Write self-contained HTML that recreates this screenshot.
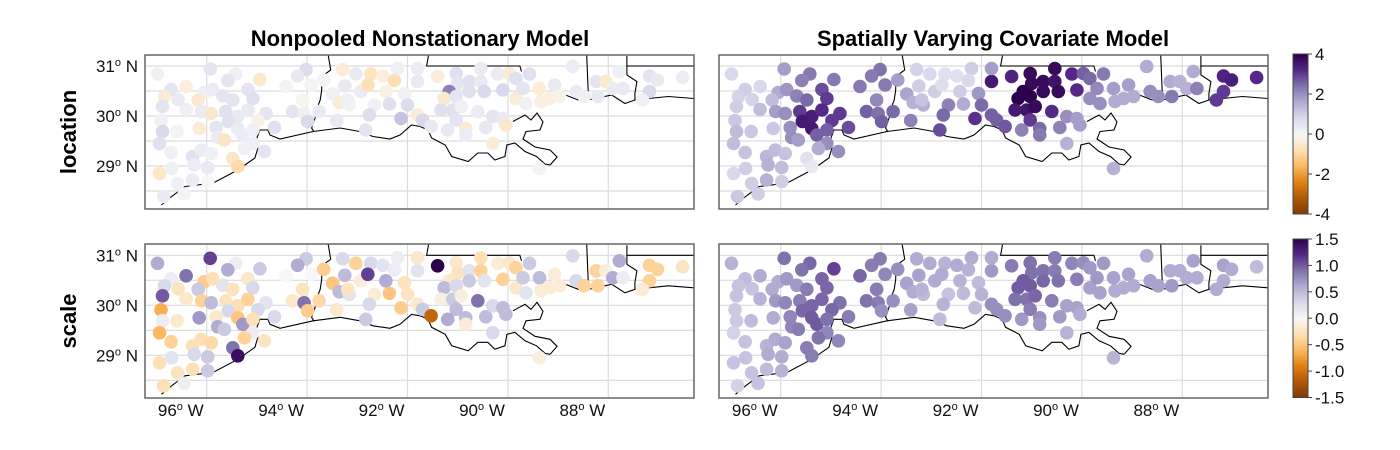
<!DOCTYPE html>
<html><head><meta charset="utf-8"><style>
body{margin:0;background:#fff;}
svg{display:block;font-family:"Liberation Sans",Arial,sans-serif;}
</style></head><body>
<svg id="fig" width="1400" height="450" viewBox="0 0 1400 450">
<defs>
<clipPath id="cTL"><rect x="145" y="55" width="549" height="154"/></clipPath>
<clipPath id="cTR"><rect x="719" y="55" width="549" height="154"/></clipPath>
<clipPath id="cBL"><rect x="145" y="244" width="549" height="154"/></clipPath>
<clipPath id="cBR"><rect x="719" y="244" width="549" height="154"/></clipPath>
<linearGradient id="g1" x1="0" y1="1" x2="0" y2="0"></linearGradient>
<linearGradient id="g2" x1="0" y1="1" x2="0" y2="0"></linearGradient>
</defs>
<text x="420" y="46" text-anchor="middle" font-size="22" font-weight="bold" fill="#000">Nonpooled Nonstationary Model</text>
<text x="993" y="46" text-anchor="middle" font-size="22" font-weight="bold" fill="#000">Spatially Varying Covariate Model</text>
<text transform="translate(76,132) rotate(-90)" text-anchor="middle" font-size="22" font-weight="bold">location</text>
<text transform="translate(76,321) rotate(-90)" text-anchor="middle" font-size="22" font-weight="bold">scale</text>
<g id="panels"></g>
<g id="cbars"></g>
</svg>
<script>
// station coordinates
const lons=[-96.98,-95.93,-95.42,-95.58,-94.94,-96.71,-96.41,-96.84,-96.57,-96.05,-95.88,-95.68,-95.48,-95.18,-95.08,-96.88,-96.41,-96.17,-96.10,-95.91,-95.62,-95.38,-95.18,-94.82,-96.91,-95.57,-95.38,-94.98,-94.65,-96.88,-96.59,-96.15,-95.81,-95.78,-95.65,-95.28,-95.08,-96.94,-95.08,-96.71,-96.28,-96.11,-95.91,-96.25,-95.98,-95.48,-95.38,-95.25,-94.85,-96.94,-96.70,-96.58,-96.28,-95.98,-96.45,-96.86,-94.02,-94.19,-94.42,-93.92,-93.67,-93.29,-93.03,-92.73,-92.49,-92.20,-93.25,-92.93,-92.79,-92.43,-92.26,-93.49,-93.36,-93.16,-93.19,-94.09,-94.29,-94.06,-93.76,-93.99,-93.41,-92.66,-92.76,-92.36,-92.06,-92.00,-92.13,-92.83,-91.80,-91.80,-91.40,-91.03,-91.00,-90.77,-90.54,-90.54,-90.20,-89.97,-89.84,-89.57,-91.17,-91.27,-91.03,-90.77,-90.47,-90.10,-91.33,-91.10,-90.93,-90.60,-91.03,-91.80,-91.70,-91.53,-91.20,-90.84,-90.84,-90.44,-90.30,-90.10,-90.04,-90.30,-89.84,-89.64,-89.70,-89.37,-89.34,-89.07,-89.17,-88.97,-88.71,-88.64,-88.48,-88.24,-88.21,-88.05,-87.91,-87.78,-87.71,-87.18,-87.02,-86.52,-87.18,-87.32,-89.37];
const lats=[30.84,30.94,30.84,30.71,30.73,30.53,30.59,30.39,30.33,30.47,30.53,30.40,30.32,30.53,30.35,30.19,30.13,30.32,30.09,30.05,30.09,29.99,30.12,30.05,29.91,29.89,29.75,29.91,29.77,29.69,29.69,29.75,29.77,29.57,29.52,29.62,29.72,29.45,29.45,29.27,29.19,29.32,29.25,29.02,28.97,29.15,28.99,29.35,29.29,28.85,28.95,28.65,28.72,28.69,28.44,28.39,30.93,30.80,30.59,30.62,30.72,30.93,30.84,30.84,30.80,30.95,30.60,30.49,30.62,30.49,30.71,30.44,30.27,30.22,30.32,30.32,30.09,30.05,30.09,29.89,29.91,30.22,30.02,30.24,30.45,30.22,29.95,29.72,30.69,30.95,30.79,30.85,30.65,30.69,30.95,30.69,30.84,30.85,30.75,30.84,30.49,30.35,30.39,30.49,30.49,30.52,30.12,30.12,30.19,30.09,29.92,30.02,29.92,29.79,29.72,29.75,29.62,29.77,29.99,29.95,29.82,29.45,30.35,30.25,30.55,30.55,30.29,30.62,30.35,30.39,30.99,30.49,30.39,30.69,30.39,30.69,30.55,30.89,30.55,30.80,30.72,30.77,30.49,30.32,28.95];
// location: nonpooled nonstationary model
const locNP=[0.2,0.5,0.2,0.5,-0.5,0.5,-0.3,-0.4,0.4,0.2,0.3,0.5,0.5,0.5,0.6,0.5,0.2,-0.5,0.3,-0.5,0.6,0.4,0.4,0.5,0.2,0.6,0.3,-0.2,0.6,0.8,0.1,-0.4,0.5,0.3,-0.6,0.3,0.2,0.6,0.2,0.2,0.6,0.3,0.2,0.3,0.4,-0.6,-0.9,0.2,0.5,-0.6,0.2,0.2,0.3,0.0,0.1,0.4,0.7,0.4,0.1,0.1,0.1,-0.4,0.4,-0.7,-0.3,0.2,0.4,0.3,-0.8,-0.2,-0.8,0.2,-0.4,0.1,0.2,-0.1,0.5,0.2,0.4,0.8,0.4,0.2,0.7,0.6,0.2,0.7,1.2,0.5,0.4,0.3,-0.4,0.6,0.5,0.6,0.3,0.4,0.3,-0.4,0.6,0.6,2.2,-0.5,0.5,0.6,0.8,0.8,0.6,0.6,0.2,0.3,0.5,-0.4,0.8,0.4,0.4,-0.4,0.3,0.4,0.5,0.3,-0.5,-0.4,-0.4,0.2,0.5,-0.4,-0.3,0.4,-0.3,-0.2,0.3,0.3,0.2,0.5,0.4,-0.5,0.3,0.2,0.4,0.5,0.4,0.3,0.8,0.2,0.1];
// location: spatially varying covariate model
const locSV=[0.8,1.8,2.3,2.2,2.3,1.0,0.8,0.9,0.9,1.6,1.9,2.2,2.5,2.8,3.0,1.0,1.3,1.3,1.8,2.0,3.0,3.4,3.2,3.0,1.1,3.5,3.5,3.0,2.8,1.3,1.1,1.1,2.0,2.0,1.8,2.6,2.6,1.3,2.0,1.2,1.4,1.3,1.2,1.5,1.3,0.6,0.4,1.6,2.0,0.8,1.0,1.0,1.5,1.0,1.0,1.1,2.4,2.3,2.3,2.3,1.8,0.9,0.8,0.6,0.6,1.0,1.0,1.0,0.7,1.0,0.8,1.7,1.5,1.5,1.2,2.1,2.6,2.4,2.5,2.6,2.2,2.2,2.5,1.6,1.9,2.5,3.1,2.8,3.5,1.8,3.3,3.8,3.8,3.8,3.8,3.6,3.2,2.6,2.5,2.3,4.0,4.0,4.0,3.8,3.8,3.2,3.5,3.6,3.8,3.2,3.0,2.6,2.6,2.7,2.2,2.5,2.3,2.2,2.0,1.8,1.8,1.5,2.0,2.0,2.1,1.8,1.6,1.8,1.6,1.6,1.6,2.0,2.0,1.6,2.3,1.5,1.5,1.6,2.2,3.3,3.4,3.2,3.0,3.0,1.5];
// scale: nonpooled nonstationary model
const scaleNP=[0.6,1.1,0.1,0.6,0.4,0.1,0.9,0.3,-0.25,-0.45,-0.3,0.2,-0.25,-0.2,0.3,1.0,-0.2,0.4,-0.4,0.5,-0.25,-0.3,-0.4,0.2,-0.65,0.3,-0.5,0.3,0.3,0.1,-0.2,0.7,-0.2,0.6,0.4,0.7,-0.3,-0.6,0.1,-0.4,-0.3,-0.3,-0.35,0.3,0.4,0.9,1.4,-0.4,-0.25,-0.3,0.2,-0.25,-0.3,0.4,0.1,-0.3,0.4,0.6,0.0,0.0,-0.45,0.3,-0.4,0.3,0.2,0.1,0.5,-0.15,1.1,0.6,0.1,-0.5,0.5,0.2,-0.25,-0.25,-0.2,0.9,-0.35,-0.45,-0.2,-0.15,0.3,-0.5,-0.25,-0.25,-0.45,0.4,0.2,-0.2,1.5,-0.2,-0.25,0.2,-0.3,-0.4,-0.15,-0.2,-0.4,0.4,-0.2,0.5,0.3,0.4,0.2,-0.4,-0.1,0.4,-0.1,0.9,0.5,-0.2,0.4,-1.1,0.6,0.5,-0.15,0.5,0.3,0.5,0.5,0.3,-0.2,0.2,0.4,0.5,-0.15,-0.15,-0.15,-0.15,0.3,0.3,-0.4,-0.4,-0.4,-0.1,0.6,0.6,0.1,-0.4,-0.4,-0.25,-0.4,-0.15,-0.1];
// scale: spatially varying covariate model
const scaleSV=[0.55,0.9,0.95,0.9,1.1,0.5,0.6,0.45,0.45,0.6,0.7,0.7,0.85,0.95,0.95,0.45,0.55,0.6,0.7,0.8,0.85,0.95,0.95,0.9,0.4,0.95,1.0,0.95,0.85,0.4,0.5,0.6,0.8,0.8,0.85,1.0,0.9,0.35,0.8,0.45,0.55,0.6,0.65,0.6,0.6,0.85,0.85,0.9,0.8,0.45,0.45,0.45,0.5,0.55,0.45,0.35,0.85,0.85,0.95,0.8,0.75,0.6,0.6,0.55,0.6,0.6,0.65,0.6,0.6,0.55,0.55,0.65,0.6,0.5,0.55,0.85,0.9,0.85,0.75,0.75,0.65,0.45,0.55,0.5,0.5,0.55,0.5,0.5,0.7,0.6,0.85,0.9,0.9,0.9,0.85,0.85,0.8,0.75,0.7,0.7,1.0,1.0,1.0,0.95,0.9,0.85,0.9,0.9,0.95,0.85,0.85,0.75,0.75,0.75,0.7,0.75,0.7,0.7,0.65,0.65,0.6,0.55,0.65,0.65,0.7,0.65,0.6,0.65,0.6,0.6,0.6,0.65,0.65,0.6,0.7,0.6,0.6,0.65,0.6,0.65,0.6,0.5,0.6,0.6,0.55];
const locTicks=[4,2,0,-2,-4];
const scaleTicks=["1.5","1.0","0.5","0.0","-0.5","-1.0","-1.5"];
const latTicks=[31,30,29];
const lonTicks=[96,94,92,90,88];
// coastline / borders (lon, lat pairs)
const coastMain=[[-96.90,28.22],[-96.70,28.39],[-96.43,28.59],[-95.87,28.66],[-95.38,28.92],[-95.04,29.16],[-94.98,29.36],[-95.00,29.56],[-94.94,29.72],[-94.78,29.72],[-94.74,29.62],[-94.54,29.54],[-93.88,29.69],[-93.34,29.76],[-92.95,29.69],[-92.69,29.59],[-92.35,29.54],[-92.15,29.62],[-91.92,29.82],[-91.75,29.79],[-91.59,29.72],[-91.52,29.56],[-91.25,29.42],[-91.12,29.19],[-90.79,29.09],[-90.60,29.26],[-90.40,29.26],[-90.26,29.12],[-90.06,29.19],[-90.02,29.42],[-89.86,29.46],[-89.66,29.29],[-89.43,29.19],[-89.26,29.04],[-89.16,29.02]];
const coastLake=[[-89.90,29.89],[-89.66,30.02],[-89.54,29.92],[-89.42,30.06],[-89.30,29.88],[-89.36,29.72],[-89.64,29.69],[-89.70,29.54],[-89.46,29.38],[-89.16,29.32],[-89.02,29.18],[-89.16,29.02]];
const coastEast=[[-88.93,30.45],[-88.60,30.32],[-88.40,30.32],[-87.93,30.42],[-87.67,30.25],[-87.47,30.32],[-87.20,30.35],[-86.80,30.39],[-86.29,30.35]];
const borderTXLA=[[-93.58,31.22],[-93.53,30.92],[-93.71,30.79],[-93.71,30.52],[-93.74,30.32],[-93.80,30.16],[-93.84,29.96],[-93.91,29.76],[-93.86,29.68]];
const borderN=[[-91.58,31.22],[-91.62,31.0],[-89.76,31.0],[-89.73,30.89]];
const borderV=[[-88.43,31.22],[-88.40,30.49]];
const borderE1=[[-87.63,31.2],[-87.63,31.0],[-86.0,31.0]];
const borderE2=[[-87.63,31.0],[-87.63,30.82],[-87.43,30.69],[-87.47,30.45],[-87.47,30.32]];

const NS='http://www.w3.org/2000/svg';
const pal=['#7f3b08','#b35806','#e08214','#fdb863','#fee0b6','#f7f7f7','#d8daeb','#b2abd2','#8073ac','#542788','#2d004b'];
function hex(h){return [1,3,5].map(i=>parseInt(h.substr(i,2),16));}
function cmap(v,m){let t=(Math.max(-1,Math.min(1,v/m))+1)/2*10;let i=Math.min(9,Math.floor(t)),f=t-i;const a=hex(pal[i]),b=hex(pal[i+1]);return 'rgb('+a.map((c,k)=>Math.round(c+(b[k]-c)*f)).join(',')+')';}
function el(tag,attrs,parent){const e=document.createElementNS(NS,tag);for(const k in attrs)e.setAttribute(k,attrs[k]);parent.appendChild(e);return e;}
const LON0=-97,PXD=50.2,PYD=50;
const panels=[
 {name:'location-nonpooled',x0:156.5,y0:66,fx:145,fy:55,clip:'cTL',vals:locNP,max:4,xl:false,yl:true},
 {name:'location-spatial',x0:730.5,y0:66,fx:719,fy:55,clip:'cTR',vals:locSV,max:4,xl:false,yl:false},
 {name:'scale-nonpooled',x0:156.5,y0:255.3,fx:145,fy:244,clip:'cBL',vals:scaleNP,max:1.5,xl:true,yl:true},
 {name:'scale-spatial',x0:730.5,y0:255.3,fx:719,fy:244,clip:'cBR',vals:scaleSV,max:1.5,xl:true,yl:false}];
const root=document.getElementById('panels');
panels.forEach(p=>{
 const X=lon=>p.x0+(lon-LON0)*PXD, Y=lat=>p.y0+(31-lat)*PYD;
 const g=el('g',{},root);
 
 
 const inner=el('g',{'clip-path':'url(#'+p.clip+')'},g);
 for(let lon=-96;lon<=-86;lon+=2){const l=el('line',{x1:X(lon),x2:X(lon),y1:p.fy,y2:p.fy+154,stroke:'#dcdcdc','stroke-width':1.2},inner);
  
  }
 for(let lat=28.5;lat<=31;lat+=0.5){const l=el('line',{x1:p.fx,x2:p.fx+549,y1:Y(lat),y2:Y(lat),stroke:'#dcdcdc','stroke-width':1.2},inner);
  
  }
 [coastMain,coastLake,coastEast,borderTXLA,borderN,borderV,borderE1,borderE2].forEach(line=>{
  const pl=el('polyline',{points:line.map(q=>X(q[0]).toFixed(1)+','+Y(q[1]).toFixed(1)).join(' '),fill:'none',stroke:'#000','stroke-width':1.1},inner);
  
  
 });
 lons.forEach((lon,i)=>{
  const c=el('circle',{cx:X(lon).toFixed(1),cy:Y(lats[i]).toFixed(1),r:6.8,fill:cmap(p.vals[i],p.max)},inner);
  
  
 });
 const fr=el('rect',{x:p.fx,y:p.fy,width:549,height:154,fill:'none',stroke:'#666','stroke-width':1.5},g);
 
 
 if(p.yl){latTicks.forEach(lat=>{
  const t=el('text',{x:138,y:Y(lat)+6,'text-anchor':'end','font-size':17,fill:'#111'},g);
  
  
  t.innerHTML=lat+'<tspan dy="-6" font-size="11">o</tspan><tspan dy="6"> N</tspan>';});}
 if(p.xl){lonTicks.forEach(d=>{
  const t=el('text',{x:X(-d)-3,y:416,'text-anchor':'end','font-size':17,fill:'#111'},g);
  
  
  t.innerHTML=d+'<tspan dy="-6" font-size="11">o</tspan><tspan dy="6"> W</tspan>';});}
});
// colorbars
const cb=document.getElementById('cbars');
function gradient(id){const gr=document.getElementById(id);pal.forEach((c,i)=>el('stop',{offset:(i/10),'stop-color':c},gr));}
gradient('g1');gradient('g2');
function colorbar(name,grad,y0,h,ticks,max){
 const g=el('g',{},cb);
 
 
 el('rect',{x:1293,y:y0,width:15,height:h,fill:'url(#'+grad+')',stroke:'#444','stroke-width':1},g);
 ticks.forEach(tv=>{const v=parseFloat(tv);const y=y0+(max-v)/(2*max)*h;
  el('line',{x1:1308,x2:1312,y1:y,y2:y,stroke:'#444','stroke-width':1},g);
  const t=el('text',{x:1315,y:y+6,'font-size':17,fill:'#111'},g);
  
  
  t.textContent=tv;});
}
colorbar('colorbar-location','g1',54,160,locTicks,4);
colorbar('colorbar-scale','g2',239,158.5,scaleTicks,1.5);
</script>
</body></html>
